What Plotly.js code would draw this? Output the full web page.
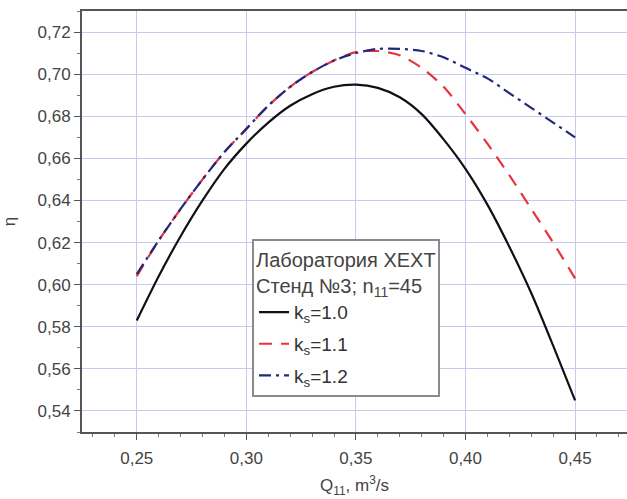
<!DOCTYPE html>
<html><head><meta charset="utf-8">
<script src="https://cdn.plot.ly/plotly-3.0.1.min.js"></script>
<style>body{margin:0;padding:0;background:#fff}#c{width:627px;height:499px}</style>
</head><body><div id="c"></div>
<script>
const Q = [0.25,0.26,0.27,0.28,0.29,0.30,0.31,0.32,0.33,0.34,0.35,0.36,0.37,0.38,0.39,0.40,0.41,0.42,0.43,0.44,0.45];
const eta_k10 = [0.583,0.604,0.623,0.640,0.655,0.667,0.677,0.685,0.6905,0.694,0.695,0.6935,0.689,0.681,0.669,0.655,0.638,0.618,0.596,0.571,0.545];
const eta_k11 = [0.604,0.621,0.636,0.650,0.663,0.674,0.685,0.694,0.701,0.7065,0.7105,0.711,0.709,0.703,0.694,0.681,0.667,0.652,0.636,0.620,0.603];
const eta_k12 = [0.605,0.621,0.636,0.650,0.663,0.674,0.685,0.694,0.701,0.7065,0.710,0.712,0.712,0.711,0.708,0.703,0.698,0.691,0.684,0.677,0.670];
const names = ['k<sub>s</sub>=1.0','k<sub>s</sub>=1.1','k<sub>s</sub>=1.2'];
const xTicks = [0.25,0.30,0.35,0.40,0.45];
const yTicks = [0.54,0.56,0.58,0.60,0.62,0.64,0.66,0.68,0.70,0.72];

const font = 'Liberation Sans, Arial, sans-serif';
const traces = [
  {x:Q,y:eta_k10,name:names[0],legendgroup:'a',mode:'lines',line:{color:'#111111',width:2.2,shape:'spline',smoothing:0.8}},
  {x:Q,y:eta_k11,name:names[1],legendgroup:'b',mode:'lines',line:{color:'#e8333f',width:2.2,dash:'13px,9px',shape:'spline',smoothing:0.8}},
  {x:Q,y:eta_k12,name:names[2],legendgroup:'c',mode:'lines',line:{color:'#22287a',width:2.2,dash:'12px,5px,3px,5px',shape:'spline',smoothing:0.8}}
];
const layout = {
  width:627,height:499,
  margin:{l:82,r:0,t:11,b:67},
  separators:', ',
  paper_bgcolor:'#ffffff',plot_bgcolor:'#ffffff',
  font:{family:font,color:'#444444',size:17},
  showlegend:true,
  legend:{x:0.312,y:0.458,xanchor:'left',yanchor:'top',bgcolor:'#ffffff',bordercolor:'#8a8a8a',borderwidth:2,
    font:{family:font,size:19,color:'#333333'},traceorder:'grouped',tracegroupgap:4,
    title:{text:'Лаборатория XEXT<br>Стенд №3; n<sub>11</sub>=45',side:'top',font:{family:font,size:20,color:'#444444'}}},
  xaxis:{range:[0.225,0.4737],tickvals:xTicks,tickformat:'.2f',showgrid:true,gridcolor:'#c9c9ee',gridwidth:1,
    zeroline:false,showline:true,linecolor:'#555555',linewidth:2,mirror:true,ticks:'outside',ticklen:6,tickcolor:'#555555',
    ticklabelstandoff:4,
    minor:{dtick:0.01,tick0:0.25,ticks:'outside',ticklen:3,tickcolor:'#777777',showgrid:false},
    title:{text:'Q<sub>11</sub>, m<sup>3</sup>/s',font:{family:font,size:17,color:'#444444'},standoff:12}},
  yaxis:{range:[0.53,0.73],tickvals:yTicks,tickformat:'.2f',showgrid:true,gridcolor:'#c9c9ee',gridwidth:1,
    zeroline:false,showline:true,linecolor:'#555555',linewidth:2,ticks:'outside',ticklen:6,tickcolor:'#555555',
    minor:{dtick:0.01,tick0:0.53,ticks:'outside',ticklen:3,tickcolor:'#777777',showgrid:false},
    title:{text:'η',font:{family:font,size:17,color:'#444444'},standoff:18}}
};
Plotly.newPlot('c',traces,layout,{displayModeBar:false,staticPlot:true});
</script></body></html>
